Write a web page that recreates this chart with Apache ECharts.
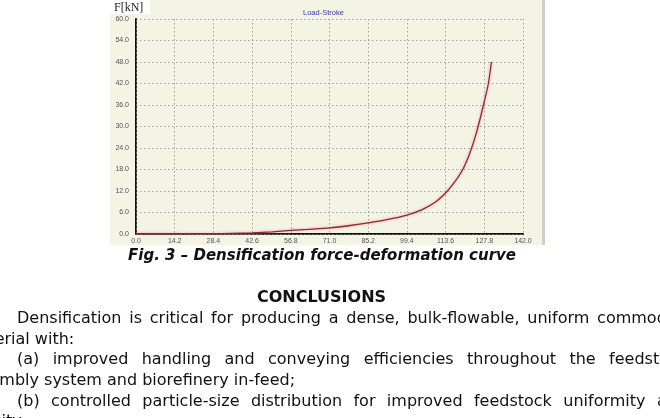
<!DOCTYPE html>
<html>
<head>
<meta charset="utf-8">
<script src="https://cdn.jsdelivr.net/npm/echarts@6/dist/echarts.min.js"></script>
<style>
    body { margin: 0; background: #fff; width: 660px; height: 418px; overflow: hidden; position: relative; }
    #main { position: absolute; left: 0; top: 0; width: 660px; height: 418px; }
    .txt { position: absolute; font-family: 'DejaVu Sans', sans-serif; color: #111; white-space: nowrap; z-index: 2; }
    .caption { left: 128px; top: 246px; font-size: 15px; font-weight: bold; font-style: italic; line-height: 18px; }
    .head { left: 257px; top: 287px; font-size: 16px; font-weight: bold; line-height: 20px; }
    .body { left: -37px; top: 308px; width: 724px; font-size: 16px; line-height: 20.7px; }
    .body div { height: 20.7px; overflow: visible; }
    .just { text-align: justify; text-align-last: justify; text-indent: 54px; }
</style>
</head>
<body>
<div id="main"></div>
<div class="txt caption">Fig. 3 – Densification force-deformation curve</div>
<div class="txt head">CONCLUSIONS</div>
<div class="txt body">
    <div class="just">Densification is critical for producing a dense, bulk-flowable, uniform commodity</div>
    <div>material with:</div>
    <div class="just">(a) improved handling and conveying efficiencies throughout the feedstock</div>
    <div>assembly system and biorefinery in-feed;</div>
    <div class="just">(b) controlled particle-size distribution for improved feedstock uniformity and</div>
    <div>density;</div>
</div>
<script>
// stroke (x) and force F[kN]
var stroke = [0, 14.2, 28.4, 35, 42.6, 50, 56.8, 63, 71, 78, 85.2, 92, 99.4, 105, 110, 114, 117, 120.1, 122.6, 125, 127.5, 129.3, 130.4];
var force = [0, 0, 0.05, 0.15, 0.3, 0.6, 1.0, 1.3, 1.7, 2.3, 3.1, 4.0, 5.3, 6.8, 9.0, 11.8, 14.6, 18.3, 22.8, 28.5, 36, 42, 48];
var xTicks = ['0.0', '14.2', '28.4', '42.6', '56.8', '71.0', '85.2', '99.4', '113.6', '127.8', '142.0'];
var yTicks = ['0.0', '6.0', '12.0', '18.0', '24.0', '30.0', '36.0', '42.0', '48.0', '54.0', '60.0'];

var points = [];
for (var i = 0; i < stroke.length; i++) {
    points.push([stroke[i], force[i]]);
}

var chart = echarts.init(document.getElementById('main'));

var gridLine = { show: true, lineStyle: { color: '#a4a49c', width: 1, type: [1.5, 2.5] } };
var labelFont = { fontSize: 7, color: '#555', fontFamily: 'Liberation Sans' };

var option = {
    animation: false,
    backgroundColor: '#ffffff',
    title: {
        text: 'Load-Stroke',
        left: 298, top: 4,
        textStyle: { fontSize: 7.5, fontWeight: 'normal', color: '#3636a8', fontFamily: 'Liberation Sans' }
    },
    graphic: [
        { type: 'rect', z: -10, shape: { x: 110, y: 0, width: 432, height: 245 }, style: { fill: '#f4f4e4' } },
        { type: 'rect', z: -9, shape: { x: 110, y: 0, width: 40, height: 14 }, style: { fill: '#ffffff' } },
        { type: 'rect', z: -9, shape: { x: 542, y: 0, width: 3, height: 245 }, style: { fill: '#cfcfc8' } },
        { type: 'text', left: 114, top: 2, style: { text: 'F[kN]', fontSize: 12, fontFamily: 'Liberation Serif', fill: '#222' } }
    ],
    grid: { left: 136, top: 19, right: 137, bottom: 184 },
    xAxis: [{
        type: 'value', min: 0, max: 142, interval: 14.2,
        axisLine: { show: true, lineStyle: { color: '#111', width: 2 } },
        axisTick: { show: false },
        axisLabel: Object.assign({ margin: 4, formatter: function(v) { return xTicks[Math.round(v / 14.2)]; } }, labelFont),
        splitLine: gridLine
    }, {
        type: 'value', position: 'top', min: 0, max: 142,
        axisLine: { show: true, lineStyle: { color: '#666', width: 1, type: [2, 2] } },
        axisTick: { show: false }, axisLabel: { show: false }, splitLine: { show: false }
    }],
    yAxis: [{
        type: 'value', min: 0, max: 60, interval: 6,
        axisLine: { show: true, lineStyle: { color: '#111', width: 2 } },
        axisTick: { show: false },
        axisLabel: Object.assign({ margin: 7, formatter: function(v) { return yTicks[Math.round(v / 6)]; } }, labelFont),
        splitLine: gridLine
    }, {
        type: 'value', position: 'right', min: 0, max: 60,
        axisLine: { show: true, lineStyle: { color: '#666', width: 1, type: [2, 2] } },
        axisTick: { show: false }, axisLabel: { show: false }, splitLine: { show: false }
    }],
    series: [{
        type: 'line',
        data: points,
        smooth: 0.2,
        showSymbol: false,
        lineStyle: { color: '#8a2a36', width: 1.3, shadowColor: 'rgba(235,120,130,0.8)', shadowBlur: 3 }
    }]
};

chart.setOption(option);
</script>
</body>
</html>
